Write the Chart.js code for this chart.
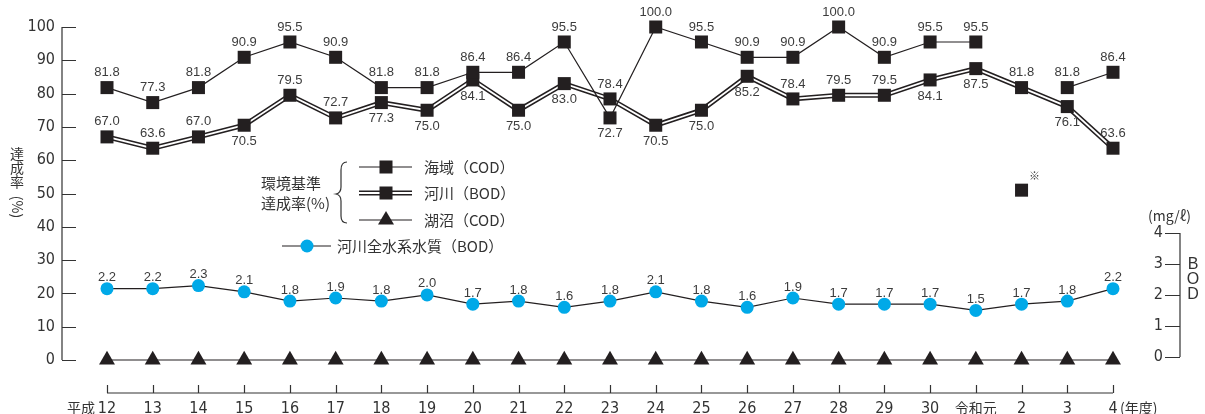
<!DOCTYPE html>
<html lang="ja">
<head>
<meta charset="utf-8">
<title>環境基準達成率</title>
<script src="https://cdn.jsdelivr.net/npm/chart.js@4.4.0/dist/chart.umd.min.js"></script>
<style>
  html, body { margin: 0; padding: 0; background: #fff; }
</style>
</head>
<body>
<canvas id="myChart" width="1205" height="414"></canvas>
<script>
// 年度
var years = ['12', '13', '14', '15', '16', '17', '18', '19', '20', '21', '22', '23', '24', '25', '26', '27', '28', '29', '30', '令和元', '2', '3', '4'];

// 環境基準達成率(%)
var seaCOD   = [81.8, 77.3, 81.8, 90.9, 95.5, 90.9, 81.8, 81.8, 86.4, 86.4, 95.5, 72.7, 100.0, 95.5, 90.9, 90.9, 100.0, 90.9, 95.5, 95.5, null, 81.8, 86.4];
var seaNote  = [null, null, null, null, null, null, null, null, null, null, null, null, null, null, null, null, null, null, null, null, 51, null, null];
var riverBOD = [67.0, 63.6, 67.0, 70.5, 79.5, 72.7, 77.3, 75.0, 84.1, 75.0, 83.0, 78.4, 70.5, 75.0, 85.2, 78.4, 79.5, 79.5, 84.1, 87.5, 81.8, 76.1, 63.6];
var lakeCOD  = [0, 0, 0, 0, 0, 0, 0, 0, 0, 0, 0, 0, 0, 0, 0, 0, 0, 0, 0, 0, 0, 0, 0];

// 河川全水系水質 BOD (mg/l)
var riverAllBOD = [2.2, 2.2, 2.3, 2.1, 1.8, 1.9, 1.8, 2.0, 1.7, 1.8, 1.6, 1.8, 2.1, 1.8, 1.6, 1.9, 1.7, 1.7, 1.7, 1.5, 1.7, 1.8, 2.2];

var yTicks = [0, 10, 20, 30, 40, 50, 60, 70, 80, 90, 100];
var bodTicks = [0, 1, 2, 3, 4];

// label placement (a = above, b = below)
var seaSide   = ['a','a','a','a','a','a','a','a','a','a','a','b','a','a','a','a','a','a','a','a','a','a','a'];
var riverSide = ['a','a','a','b','a','a','b','b','b','b','b','a','b','b','b','a','a','a','b','b','a','b','a'];

var ink = '#231f20';
var axisColor = '#333333';
var blue = '#00a9e8';
var numFont = '"Liberation Sans Narrow", "Arial Narrow", "DejaVu Sans Condensed", sans-serif';
var jpFont = '"Noto Sans CJK JP", "Noto Sans", sans-serif';
var lblFont = '"Liberation Sans", Arial, sans-serif';

function square(ctx, x, y) {
  ctx.fillStyle = ink;
  ctx.fillRect(x - 6.5, y - 6.5, 13, 13);
}
function triangle(ctx, x, y) {
  ctx.fillStyle = ink;
  ctx.beginPath();
  ctx.moveTo(x, y - 9);
  ctx.lineTo(x + 8, y + 4.5);
  ctx.lineTo(x - 8, y + 4.5);
  ctx.closePath();
  ctx.fill();
}
function hline(ctx, x1, x2, y, w, c) {
  ctx.strokeStyle = c;
  ctx.lineWidth = w;
  ctx.beginPath();
  ctx.moveTo(x1, y);
  ctx.lineTo(x2, y);
  ctx.stroke();
}

var decor = {
  id: 'decor',
  afterDraw: function(chart) {
    var ctx = chart.ctx;
    var area = chart.chartArea;
    var sx = chart.scales.x, sy = chart.scales.y, sy2 = chart.scales.y2;
    ctx.save();

    // left axis
    var ax = area.left - 45;
    ctx.strokeStyle = axisColor;
    ctx.lineWidth = 1.2;
    ctx.beginPath();
    ctx.moveTo(ax, sy.getPixelForValue(100));
    ctx.lineTo(ax, sy.getPixelForValue(0));
    yTicks.forEach(function(v) {
      var y = Math.round(sy.getPixelForValue(v)) + 0.5;
      ctx.moveTo(ax, y);
      ctx.lineTo(ax + 14, y);
    });
    ctx.stroke();

    // bottom axis
    var by = area.bottom + 33;
    ctx.beginPath();
    ctx.moveTo(sx.getPixelForValue(0), by);
    ctx.lineTo(sx.getPixelForValue(years.length - 1), by);
    years.forEach(function(v, i) {
      var x = Math.round(sx.getPixelForValue(i)) + 0.5;
      ctx.moveTo(x, by);
      ctx.lineTo(x, by - 8);
    });
    ctx.stroke();

    ctx.fillStyle = axisColor;
    ctx.textBaseline = 'middle';
    ctx.font = '14px ' + jpFont;
    ctx.textAlign = 'right';
    ctx.fillText('平成', sx.getPixelForValue(0) - 12, by + 15);
    ctx.textAlign = 'left';
    ctx.fillText('(年度)', sx.getPixelForValue(years.length - 1) + 7, by + 15);

    // right axis (BOD)
    var rx = area.right + 67;
    ctx.beginPath();
    ctx.moveTo(rx, sy2.getPixelForValue(4));
    ctx.lineTo(rx, sy2.getPixelForValue(0));
    bodTicks.forEach(function(v) {
      var y = Math.round(sy2.getPixelForValue(v)) + 0.5;
      ctx.moveTo(rx - 15, y);
      ctx.lineTo(rx, y);
    });
    ctx.stroke();
    ctx.font = '16px ' + numFont;
    ctx.textAlign = 'right';
    bodTicks.forEach(function(v) {
      ctx.fillText(String(v), rx - 17, sy2.getPixelForValue(v));
    });
    ctx.textAlign = 'left';
    ctx.font = '14px ' + jpFont;
    ctx.fillText('(mg/ℓ)', rx - 32, sy2.getPixelForValue(4) - 17);
    ctx.textAlign = 'center';
    ctx.font = '16px ' + lblFont;
    ['B', 'O', 'D'].forEach(function(c, i) {
      ctx.fillText(c, rx + 13, sy2.getPixelForValue(2.97) + i * 15);
    });

    // y title
    ctx.font = '14px ' + jpFont;
    ctx.textAlign = 'center';
    ['達', '成', '率'].forEach(function(c, i) {
      ctx.fillText(c, 17, 154 + i * 14);
    });
    ctx.save();
    ctx.translate(17, 207);
    ctx.rotate(Math.PI / 2);
    ctx.fillText('(%)', 0, 0);
    ctx.restore();

    // legend
    ctx.font = '15px ' + jpFont;
    ctx.textAlign = 'left';
    ctx.fillStyle = axisColor;
    ctx.fillText('環境基準', 261, 183);
    ctx.fillText('達成率(%)', 261, 203);

    // brace
    ctx.strokeStyle = axisColor;
    ctx.lineWidth = 1.2;
    ctx.beginPath();
    ctx.moveTo(347, 162);
    ctx.quadraticCurveTo(341, 162, 341, 170);
    ctx.lineTo(341, 187);
    ctx.quadraticCurveTo(341, 193, 336, 194);
    ctx.quadraticCurveTo(341, 195, 341, 201);
    ctx.lineTo(341, 216);
    ctx.quadraticCurveTo(341, 223, 347, 223);
    ctx.stroke();

    hline(ctx, 359, 412, 167, 1.2, ink);
    square(ctx, 386, 167);
    hline(ctx, 359, 412, 193, 5, ink);
    hline(ctx, 359, 412, 193, 1.8, '#ffffff');
    square(ctx, 386, 193);
    hline(ctx, 359, 412, 220, 1.2, ink);
    triangle(ctx, 386, 220);
    hline(ctx, 282, 331, 246, 1.2, ink);
    ctx.fillStyle = blue;
    ctx.beginPath();
    ctx.arc(307, 246, 6.5, 0, Math.PI * 2);
    ctx.fill();

    ctx.fillStyle = axisColor;
    ctx.font = '15px ' + jpFont;
    ctx.fillText('海域（COD）', 424, 167);
    ctx.fillText('河川（BOD）', 424, 193);
    ctx.fillText('湖沼（COD）', 424, 220);
    ctx.fillText('河川全水系水質（BOD）', 337, 246);

    // value labels
    chart.data.datasets.forEach(function(ds, di) {
      if (!ds.valueLabels) return;
      var meta = chart.getDatasetMeta(di);
      ctx.fillStyle = '#3c3c3c';
      ctx.textAlign = 'center';
      ctx.textBaseline = 'middle';
      meta.data.forEach(function(pt, i) {
        var v = ds.data[i];
        if (v === null) return;
        var side = ds.labelSide ? ds.labelSide[i] : 'a';
        if (ds.note) {
          ctx.font = '11px ' + jpFont;
          ctx.fillText(ds.note, pt.x + 13, pt.y - 14);
          return;
        }
        ctx.font = '13px ' + lblFont;
        var dy = side === 'a' ? -ds.labelGap : ds.labelGap + 1;
        ctx.fillText(v.toFixed(1), pt.x, pt.y + dy);
      });
    });

    ctx.restore();
  }
};

var ctx = document.getElementById('myChart').getContext('2d');
var myLineChart = new Chart(ctx, {
  type: 'line',
  data: {
    labels: years,
    datasets: [
      {
        label: '海域（COD）',
        data: seaCOD,
        yAxisID: 'y',
        borderColor: ink,
        borderWidth: 1.2,
        pointStyle: 'rect',
        pointRadius: 9.2,
        pointBackgroundColor: ink,
        pointBorderWidth: 0,
        spanGaps: false,
        tension: 0,
        clip: false,
        order: 0,
        valueLabels: true,
        labelSide: seaSide,
        labelGap: 15
      },
      {
        label: '※',
        data: seaNote,
        yAxisID: 'y',
        showLine: false,
        pointStyle: 'rect',
        pointRadius: 9.2,
        pointBackgroundColor: ink,
        pointBorderWidth: 0,
        clip: false,
        order: 0,
        valueLabels: true,
        note: '※'
      },
      {
        label: '河川（BOD）',
        data: riverBOD,
        yAxisID: 'y',
        showLine: false,
        pointStyle: 'rect',
        pointRadius: 9.2,
        pointBackgroundColor: ink,
        pointBorderWidth: 0,
        clip: false,
        order: 1,
        valueLabels: true,
        labelSide: riverSide,
        labelGap: 15
      },
      {
        label: 'river inner',
        data: riverBOD,
        yAxisID: 'y',
        borderColor: '#ffffff',
        borderWidth: 1.8,
        pointRadius: 0,
        tension: 0,
        clip: false,
        order: 2
      },
      {
        label: 'river outer',
        data: riverBOD,
        yAxisID: 'y',
        borderColor: ink,
        borderWidth: 5,
        pointRadius: 0,
        tension: 0,
        clip: false,
        order: 3
      },
      {
        label: '河川全水系水質（BOD）',
        data: riverAllBOD,
        yAxisID: 'y2',
        borderColor: ink,
        borderWidth: 1.2,
        pointStyle: 'circle',
        pointRadius: 6.5,
        pointBackgroundColor: blue,
        pointBorderWidth: 0,
        tension: 0,
        clip: false,
        order: 4,
        valueLabels: true,
        labelGap: 11
      },
      {
        label: '湖沼（COD）',
        data: lakeCOD,
        yAxisID: 'y',
        borderColor: ink,
        borderWidth: 1.2,
        pointStyle: 'triangle',
        pointRadius: 9.2,
        pointBackgroundColor: ink,
        pointBorderWidth: 0,
        tension: 0,
        clip: false,
        order: 5
      }
    ]
  },
  options: {
    responsive: false,
    animation: false,
    devicePixelRatio: 1,
    layout: { padding: { top: 27, right: 92, left: 0, bottom: 0 } },
    scales: {
      x: {
        type: 'category',
        offset: false,
        grid: { display: false, drawTicks: false },
        border: { display: false },
        ticks: {
          autoSkip: false,
          maxRotation: 0,
          padding: 39,
          color: axisColor,
          font: function(c) {
            if (c.tick && c.tick.label === '令和元') return { family: jpFont, size: 14 };
            return { family: numFont, size: 16 };
          }
        },
        afterFit: function(s) {
          s.height = 54;
          s.paddingLeft = 0;
          s.paddingRight = 0;
        }
      },
      y: {
        min: 0,
        max: 100,
        grid: { display: false, drawTicks: false },
        border: { display: false },
        ticks: { stepSize: 10, padding: 52, color: axisColor, font: { family: numFont, size: 16 } },
        afterFit: function(s) {
          // tick padding is only meant to push labels left, not to pad the chart vertically
          s.width = 107;
          s.paddingTop = 0;
          s.paddingBottom = 0;
        }
      },
      y2: {
        display: false,
        position: 'right',
        min: -0.1,
        max: 10.64
      }
    },
    plugins: {
      legend: { display: false },
      tooltip: { enabled: false }
    }
  },
  plugins: [decor]
});
</script>
</body>
</html>
